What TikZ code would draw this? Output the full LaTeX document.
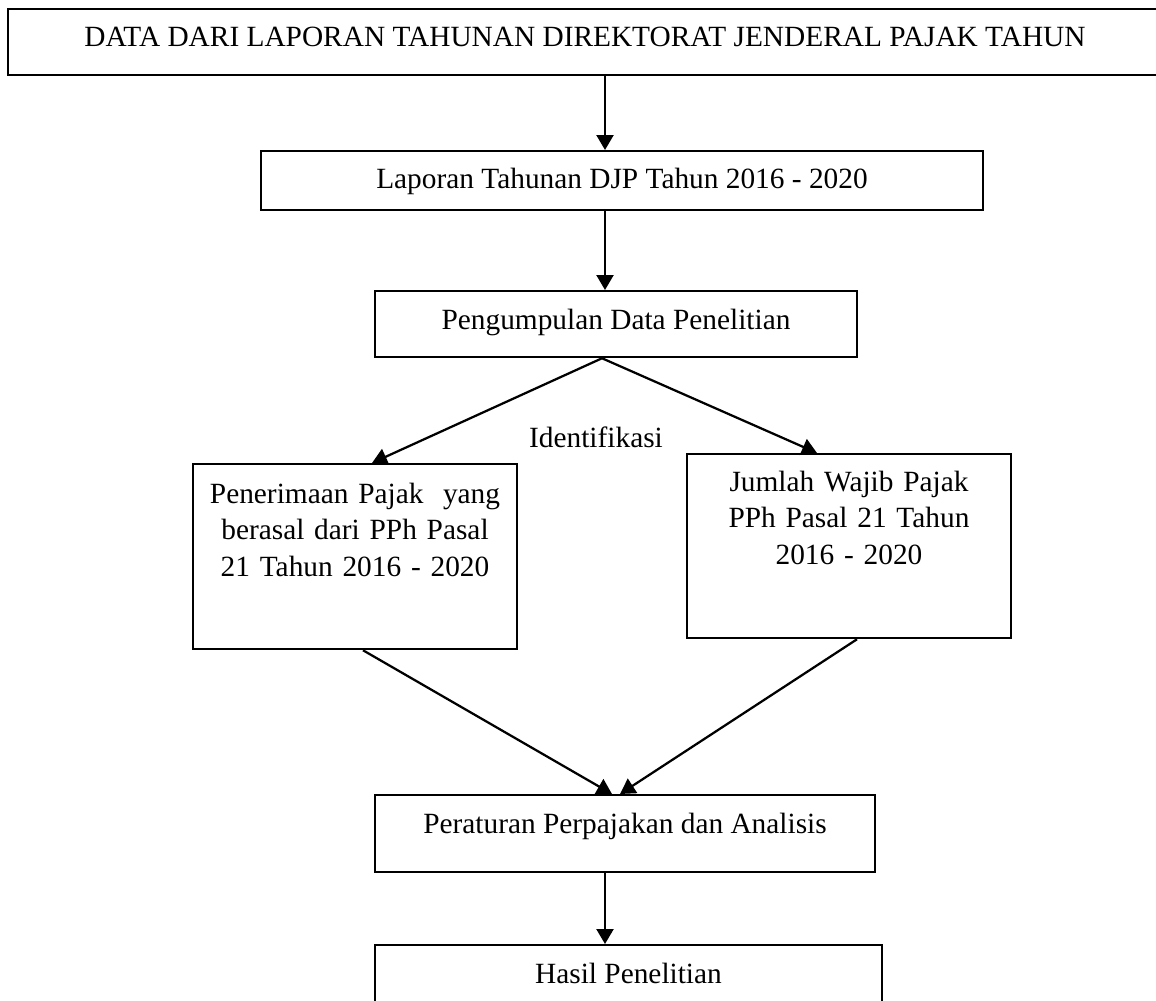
\documentclass[tikz,border=0pt]{standalone}
\usepackage{fontspec}
\setmainfont{Liberation Serif}
\usetikzlibrary{arrows.meta}

\begin{document}
\begin{tikzpicture}[
    font=\fontsize{16.7pt}{20.8pt}\selectfont,
    box/.style={draw, line width=0.045cm, inner sep=0pt, anchor=north},
    arr/.style={-{Triangle[length=0.3cm,width=0.34cm]}, line width=0.045cm}
    ]

        \useasboundingbox (0,0) rectangle (23.12,-20);
        \coordinate (spine) at (12.10,0);

        \node [box, minimum width=23.08cm, text height=0.74cm, text depth=0.58cm] (data) at (11.70,-0.16) {DATA DARI LAPORAN TAHUNAN DIREKTORAT JENDERAL PAJAK TAHUN};
        \node [box, minimum width=14.44cm, text height=0.74cm, text depth=0.44cm] (lap) at (12.44,-3.00) {Laporan Tahunan DJP Tahun 2016 - 2020};
        \node [box, minimum width=9.64cm, text height=0.76cm, text depth=0.56cm] (kumpul) at (12.32,-5.80) {Pengumpulan Data Penelitian};

        \node [box, minimum width=6.48cm, text width=6.2cm, align=center, text height=0.78cm, text depth=2.92cm] (kiri) at (7.10,-9.26) {Penerimaan Pajak~ yang\\berasal dari PPh Pasal\\21 Tahun 2016 - 2020};
        \node [box, minimum width=6.48cm, text width=6.2cm, align=center, text height=0.74cm, text depth=2.94cm] (kanan) at (16.98,-9.06) {Jumlah Wajib Pajak\\PPh Pasal 21 Tahun\\2016 - 2020};
        \node [anchor=base] (ident) at (11.92,-8.94) {Identifikasi};

        \node [box, minimum width=10.00cm, text height=0.76cm, text depth=0.78cm] (atur) at (12.50,-15.88) {Peraturan Perpajakan dan Analisis};
        \node [box, minimum width=10.14cm, text height=0.76cm, text depth=0.90cm] (hasil) at (12.57,-18.88) {Hasil Penelitian};

        \draw [arr] (data.south -| spine) -- (lap.north -| spine);
        \draw [arr] (lap.south -| spine) -- (kumpul.north -| spine);

        \draw [arr] ([xshift=-0.28cm]kumpul.south) -- ([xshift=0.34cm]kiri.north);
        \draw [arr] ([xshift=-0.28cm]kumpul.south) -- ([xshift=-0.64cm]kanan.north);

        \draw [arr] ([xshift=0.16cm]kiri.south) -- ([xshift=-0.26cm]atur.north);
        \draw [arr] ([xshift=0.16cm]kanan.south) -- ([xshift=-0.10cm]atur.north);

        \draw [arr] (atur.south -| spine) -- (hasil.north -| spine);

    \end{tikzpicture}
\end{document}
